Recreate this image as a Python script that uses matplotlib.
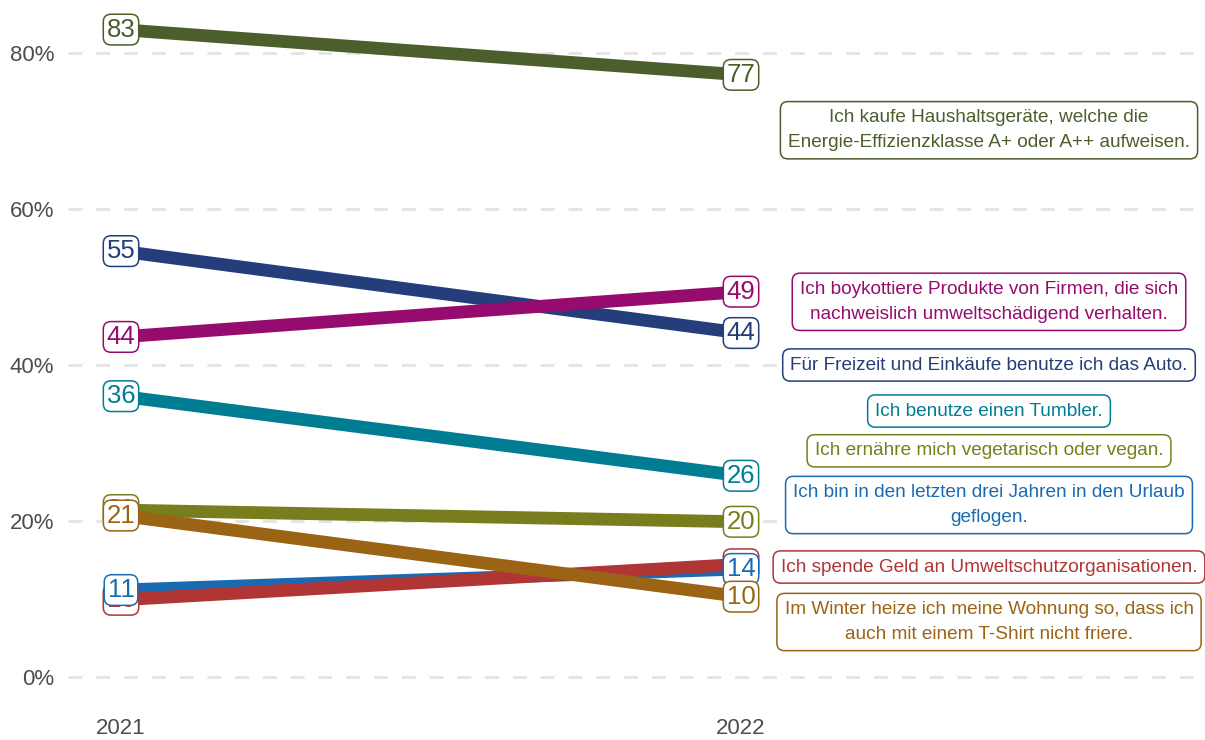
import matplotlib
matplotlib.use("Agg")
import matplotlib.pyplot as plt

plt.rcParams['font.family'] = ['Liberation Sans', 'DejaVu Sans']

years = [2021, 2022]
statements = [
    "Ich kaufe Haushaltsgeräte, welche die\nEnergie-Effizienzklasse A+ oder A++ aufweisen.",
    "Für Freizeit und Einkäufe benutze ich das Auto.",
    "Ich boykottiere Produkte von Firmen, die sich\nnachweislich umweltschädigend verhalten.",
    "Ich benutze einen Tumbler.",
    "Ich ernähre mich vegetarisch oder vegan.",
    "Ich bin in den letzten drei Jahren in den Urlaub\ngeflogen.",
    "Ich spende Geld an Umweltschutzorganisationen.",
    "Im Winter heize ich meine Wohnung so, dass ich\nauch mit einem T-Shirt nicht friere.",
]
values_2021 = [83.0, 54.6, 43.6, 36.0, 21.4, 11.15, 9.9, 20.7]
values_2022 = [77.2, 44.1, 49.4, 25.8, 19.9, 13.85, 14.45, 10.3]
colors = ["#4B5E2B", "#233E7A", "#960B6E", "#007C93", "#787D1E", "#1A6AB3", "#B03535", "#9A6414"]
yticks = [0, 20, 40, 60, 80]
ytick_labels = ["0%", "20%", "40%", "60%", "80%"]

# layout (label placement on the right side)
line_z = [3, 2, 3.5, 3, 3, 4, 5, 6]
label_z = [10, 10, 10, 10, 10, 12, 11, 13]
label_x = 2022.4
label_y = [70.1, 40.0, 48.1, 34.1, 29.0, 22.05, 14.1, 7.05]

fig = plt.figure(figsize=(12.05, 7.4), dpi=100)
ax = fig.add_axes([68 / 1205, 40 / 740, (1197 - 68) / 1205, (735 - 40) / 740])

x0 = 2021 - 53 / 620
x1 = 2022 + 456 / 620
ax.set_xlim(x0, x1)
ax.set_ylim((677 - 700) / 7.8, (677 - 5) / 7.8)

for y in yticks:
    ax.axhline(y, color="#e3e3e3", lw=2.0, dashes=(5, 5), zorder=1)

for i, s in enumerate(statements):
    c = colors[i]
    ax.plot(years, [values_2021[i], values_2022[i]], color=c, lw=9.2,
            solid_capstyle="butt", zorder=line_z[i])
    for xv, v in zip(years, [values_2021[i], values_2022[i]]):
        ax.text(xv, v, f"{round(v):d}", color=c, fontsize=18.5, ha="center", va="center",
                zorder=label_z[i],
                bbox=dict(boxstyle="round,pad=0.13,rounding_size=0.3", fc="white", ec=c, lw=1.1))
    ax.text(label_x, label_y[i], s, color=c, fontsize=13.7, ha="center", va="center",
            linespacing=1.62, multialignment="center", zorder=10,
            bbox=dict(boxstyle="round,pad=0.4,rounding_size=0.4", fc="white", ec=c, lw=1.1))

ax.set_yticks(yticks)
ax.set_yticklabels(ytick_labels)
ax.set_xticks(years)
ax.set_xticklabels([str(y) for y in years])
ax.tick_params(axis="both", length=0, labelsize=16, colors="#4d4d4d")
ax.tick_params(axis="y", pad=10)
ax.tick_params(axis="x", pad=13)
for sp in ax.spines.values():
    sp.set_visible(False)
ax.set_facecolor("white")

fig.savefig("out.png", dpi=100, facecolor="white")
